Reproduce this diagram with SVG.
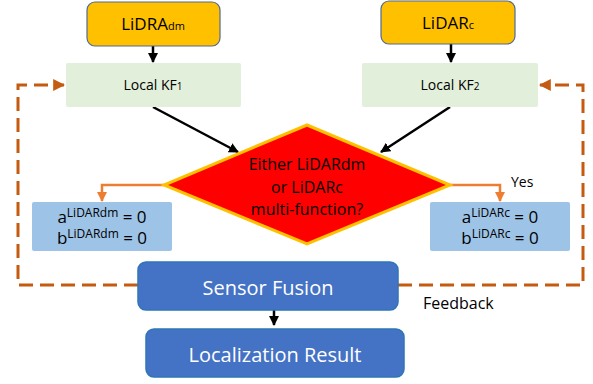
<svg xmlns="http://www.w3.org/2000/svg" width="593" height="384" viewBox="0 0 593 384">
  <style>
    text { font-family: "Open Sans", "Liberation Sans", sans-serif; }
    .src { fill: #FFC000; stroke: #4F6A96; stroke-width: 1.2; }
    .kf { fill: #E2EFDA; }
    .par { fill: #9DC3E6; }
    .blue { fill: #4472C4; stroke: #2E75B6; stroke-width: 1.5; }
    .dark { fill: #000; }
    .white { fill: #fff; }
    .fb { fill: none; stroke: #C55A11; stroke-width: 3; stroke-dasharray: 14 7; }
    .blk { fill: none; stroke: #000; stroke-width: 2.5; }
    .org { fill: none; stroke: #ED7D31; stroke-width: 2.5; }
  </style>
  <defs>
    <marker id="ah-black" viewBox="0 0 10 10" refX="9" refY="5" markerWidth="4" markerHeight="4" orient="auto" markerUnits="strokeWidth">
      <path d="M0,0 L10,5 L0,10 z" fill="#000"/>
    </marker>
    <marker id="ah-orange" viewBox="0 0 10 10" refX="9" refY="5" markerWidth="4" markerHeight="4" orient="auto" markerUnits="strokeWidth">
      <path d="M0,0 L10,5 L0,10 z" fill="#ED7D31"/>
    </marker>
    <marker id="ah-fb" viewBox="0 0 10 10" refX="9" refY="5" markerWidth="4" markerHeight="4" orient="auto" markerUnits="strokeWidth">
      <path d="M0,0 L10,5 L0,10 z" fill="#C55A11"/>
    </marker>
  </defs>

  <!-- connectors -->
  <g id="connectors">
    <path class="fb" d="M138,285 H18 V85 H64" marker-end="url(#ah-fb)"/>
    <path class="fb" d="M398,285 H583 V85 H540" marker-end="url(#ah-fb)"/>
    <path class="blk" d="M153,46 V62" marker-end="url(#ah-black)"/>
    <path class="blk" d="M451,44 V62" marker-end="url(#ah-black)"/>
    <path class="blk" d="M153,107 L238,152" marker-end="url(#ah-black)"/>
    <path class="blk" d="M450,107 L381,152" marker-end="url(#ah-black)"/>
    <path class="org" d="M164,185 H102 V201" marker-end="url(#ah-orange)"/>
    <path class="org" d="M450,185 H500 V201" marker-end="url(#ah-orange)"/>
    <path class="blk" d="M274,310 V325" marker-end="url(#ah-black)"/>
    <text x="511" y="187" font-size="14" class="dark">Yes</text>
    <text x="423" y="309" font-size="16" class="dark">Feedback</text>
  </g>

  <g id="lidar-dm">
    <rect class="src" x="87" y="2" width="133" height="44" rx="8"/>
    <text x="153" y="30" font-size="17" text-anchor="middle" class="dark">LiDRA<tspan font-size="11">dm</tspan></text>
  </g>

  <g id="lidar-c">
    <rect class="src" x="381" y="1" width="134" height="43" rx="8"/>
    <text x="448" y="29" font-size="17" text-anchor="middle" class="dark">LiDAR<tspan font-size="11">c</tspan></text>
  </g>

  <g id="kf1">
    <rect class="kf" x="66" y="63" width="175" height="44" rx="2"/>
    <text x="153" y="90" font-size="14" text-anchor="middle" class="dark">Local KF<tspan font-size="10">1</tspan></text>
  </g>

  <g id="kf2">
    <rect class="kf" x="362" y="63" width="176" height="44" rx="2"/>
    <text x="450" y="90" font-size="14" text-anchor="middle" class="dark">Local KF<tspan font-size="10">2</tspan></text>
  </g>

  <g id="decision">
    <polygon points="307,125 450,185 307,244 164,185" fill="#FF0000" stroke="#FFC000" stroke-width="3" stroke-linejoin="miter"/>
    <text x="307" y="170" font-size="16" text-anchor="middle" class="dark">Either LiDARdm</text>
    <text x="307" y="193" font-size="16" text-anchor="middle" class="dark">or LiDARc</text>
    <text x="307" y="215" font-size="16" text-anchor="middle" class="dark">multi-function?</text>
  </g>

  <g id="params-dm">
    <rect class="par" x="32" y="202" width="140" height="49" rx="2"/>
    <text x="102" y="223" font-size="17" text-anchor="middle" class="dark">a<tspan font-size="12" dy="-6">LiDARdm</tspan><tspan dy="6"> = 0</tspan></text>
    <text x="102" y="244" font-size="17" text-anchor="middle" class="dark">b<tspan font-size="12" dy="-6">LiDARdm</tspan><tspan dy="6"> = 0</tspan></text>
  </g>

  <g id="params-c">
    <rect class="par" x="430" y="202" width="140" height="49" rx="2"/>
    <text x="500" y="223" font-size="17" text-anchor="middle" class="dark">a<tspan font-size="12" dy="-6">LiDARc</tspan><tspan dy="6"> = 0</tspan></text>
    <text x="500" y="244" font-size="17" text-anchor="middle" class="dark">b<tspan font-size="12" dy="-6">LiDARc</tspan><tspan dy="6"> = 0</tspan></text>
  </g>

  <g id="fusion">
    <rect class="blue" x="138" y="262" width="260" height="48" rx="8"/>
    <text x="268" y="295" font-size="20" text-anchor="middle" class="white">Sensor Fusion</text>
  </g>

  <g id="result">
    <rect class="blue" x="146" y="329" width="258" height="48" rx="8"/>
    <text x="275" y="362" font-size="20" text-anchor="middle" class="white">Localization Result</text>
  </g>
</svg>
